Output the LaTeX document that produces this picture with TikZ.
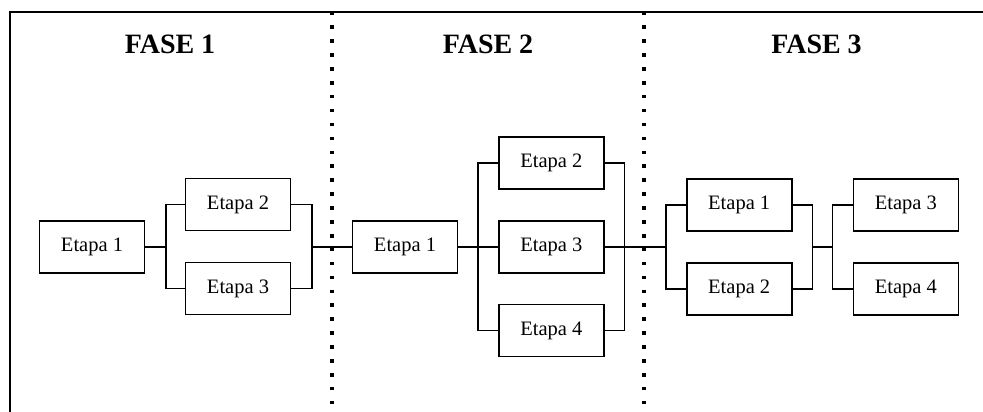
\documentclass[tikz,border=0pt]{standalone}
\usepackage{fontspec}
\setmainfont{Liberation Serif}
\begin{document}
\begin{tikzpicture}[x=1pt,y=-1pt,
  etapa/.style={draw,line width=1.6pt,minimum width=105pt,minimum height=52pt,inner sep=0pt,font=\fontsize{20.5}{24}\selectfont},
  conn/.style={line width=1.6pt},
  fase/.style={anchor=base,font=\fontsize{28}{32}\selectfont\bfseries},
  sep/.style={line width=3.6pt,dash pattern=on 3.6pt off 10.3pt}]
\useasboundingbox (0,0) rectangle (983,412);
% frame
\draw[line width=2pt] (983,11.7) -- (9.7,11.7) -- (9.7,412);
% separators
\draw[sep] (331.7,11.5) -- (331.7,412);
\draw[sep] (644,11.5) -- (644,412);
% titles
\node[fase] (t1) at (170,53.3) {FASE 1};
\node[fase] (t2) at (488,53.3) {FASE 2};
\node[fase] (t3) at (816.5,53.3) {FASE 3};
% phase 1
\node[etapa] (A1) at (92,247) {Etapa 1};
\node[etapa] (A2) at (238,204.5) {Etapa 2};
\node[etapa] (A3) at (238,288.5) {Etapa 3};
\coordinate (fA) at (165.7,247);
\coordinate (mA) at (311.7,247);
% phase 2
\node[etapa] (B1) at (405,247) {Etapa 1};
\node[etapa] (B2) at (551.3,163) {Etapa 2};
\node[etapa] (B3) at (551.3,247) {Etapa 3};
\node[etapa] (B4) at (551.3,330.5) {Etapa 4};
\coordinate (fB) at (477.7,247);
\coordinate (mB) at (624.3,247);
% phase 3
\node[etapa] (C1) at (739.2,205) {Etapa 1};
\node[etapa] (C2) at (739.2,288.7) {Etapa 2};
\node[etapa] (C3) at (905.8,205) {Etapa 3};
\node[etapa] (C4) at (905.8,288.7) {Etapa 4};
\coordinate (fC) at (665.7,247);
\coordinate (mC) at (812.3,247);
\coordinate (fD) at (832.3,247);
% connectors
\draw[conn] (A1.east) -- (fA);
\draw[conn] (A2.west) -| (fA) |- (A3.west);
\draw[conn] (A2.east) -| (mA) |- (A3.east);
\draw[conn] (mA) -- (B1.west);
\draw[conn] (B1.east) -- (B3.west);
\draw[conn] (B2.west) -| (fB) |- (B4.west);
\draw[conn] (B2.east) -| (mB) |- (B4.east);
\draw[conn] (B3.east) -- (fC);
\draw[conn] (C1.west) -| (fC) |- (C2.west);
\draw[conn] (C1.east) -| (mC) |- (C2.east);
\draw[conn] (mC) -- (fD);
\draw[conn] (C3.west) -| (fD) |- (C4.west);
\end{tikzpicture}
\end{document}
